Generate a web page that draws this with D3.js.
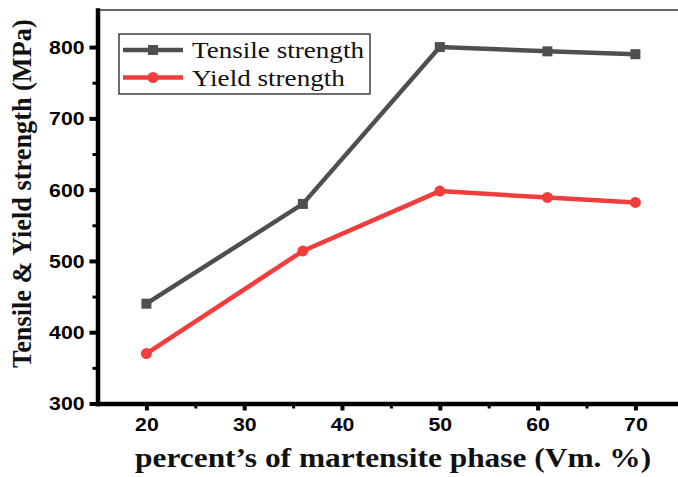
<!DOCTYPE html>
<html>
<head>
<meta charset="utf-8">
<script src="https://cdn.jsdelivr.net/npm/d3@7"></script>
<style>
  body { margin: 0; background: #fff; }
  svg { display: block; }
</style>
</head>
<body>
<svg id="chart" width="678" height="477"></svg>
<script>
// data
const xValues = [20, 36, 50, 61, 70];
const tensile = [440, 580, 800, 794, 790];
const yieldStrength = [370, 514, 598, 589, 582];
const xTicks = [20, 30, 40, 50, 60, 70];
const xMinor = [25, 35, 45, 55, 65];
const yTicks = [300, 400, 500, 600, 700, 800];
const yMinor = [350, 450, 550, 650, 750];
const seriesNames = ["Tensile strength", "Yield strength"];
const seriesColors = ["#4f4f4f", "#f23d3d"];

const svg = d3.select("#chart");

const x = d3.scaleLinear().domain([15, 75]).range([97.5, 684.3]);
const y = d3.scaleLinear().domain([300, 852]).range([403.5, 10]);

// frame top line
svg.append("line")
    .attr("x1", x(15)).attr("x2", x(75))
    .attr("y1", y(852)).attr("y2", y(852))
    .attr("stroke", "#333").attr("stroke-width", 1.5);

// minor ticks
svg.append("g")
    .attr("transform", `translate(0,${y(300)})`)
    .call(d3.axisBottom(x).tickValues(xMinor).tickSize(5).tickFormat(""))
    .call(g => g.select(".domain").remove())
    .selectAll("line").attr("stroke-width", 3);
svg.append("g")
    .attr("transform", `translate(${x(15)},0)`)
    .call(d3.axisLeft(y).tickValues(yMinor).tickSize(5).tickFormat(""))
    .call(g => g.select(".domain").remove())
    .selectAll("line").attr("stroke-width", 3);

// x axis
const xAxis = svg.append("g")
    .attr("transform", `translate(0,${y(300)})`)
    .call(d3.axisBottom(x).tickValues(xTicks).tickSize(7).tickSizeOuter(0));
xAxis.select(".domain").attr("stroke-width", 4.5).attr("stroke-linecap", "square");
xAxis.selectAll(".tick line").attr("stroke-width", 4);
xAxis.selectAll(".tick text")
    .attr("y", 27.5).attr("dy", null)
    .attr("transform", "scale(1.18,1)")
    .style("font-family", "'Liberation Sans', Arial, sans-serif")
    .style("font-weight", "bold").style("font-size", "18px").attr("fill", "#000");

// y axis
const yAxis = svg.append("g")
    .attr("transform", `translate(${x(15)},0)`)
    .call(d3.axisLeft(y).tickValues(yTicks).tickSize(8).tickSizeOuter(0));
yAxis.select(".domain").attr("stroke-width", 4.5).attr("stroke-linecap", "square");
yAxis.selectAll(".tick line").attr("stroke-width", 4);
yAxis.selectAll(".tick text")
    .attr("x", 0).attr("dy", "0.36em")
    .attr("transform", "translate(-13,0) scale(1.18,1)")
    .style("font-family", "'Liberation Sans', Arial, sans-serif")
    .style("font-weight", "bold").style("font-size", "18px").attr("fill", "#000");

// series
const series = [tensile, yieldStrength];
const line = d3.line().x((d, i) => x(xValues[i])).y(d => y(d));

series.forEach((vals, s) => {
    svg.append("path")
        .datum(vals)
        .attr("d", line)
        .attr("fill", "none")
        .attr("stroke", seriesColors[s])
        .attr("stroke-width", 4.5);
    const marks = svg.append("g").selectAll("g")
        .data(vals).enter()
        .append("g")
        .attr("transform", (d, i) => `translate(${x(xValues[i])},${y(d)})`);
    if (s === 0) {
        marks.append("rect").attr("x", -5).attr("y", -5).attr("width", 10).attr("height", 10)
            .attr("fill", seriesColors[s]);
    } else {
        marks.append("circle").attr("r", 5.5).attr("fill", seriesColors[s]);
    }
});

// legend
const legend = svg.append("g");
legend.append("rect")
    .attr("x", 119).attr("y", 34).attr("width", 251).attr("height", 60)
    .attr("fill", "#fff").attr("stroke", "#222").attr("stroke-width", 1.3);
const rows = [50, 77.5];
seriesNames.forEach((name, s) => {
    const g = legend.append("g").attr("transform", `translate(0,${rows[s]})`);
    g.append("line").attr("x1", 123).attr("x2", 183)
        .attr("stroke", seriesColors[s]).attr("stroke-width", 4.5);
    if (s === 0) {
        g.append("rect").attr("x", 148).attr("y", -5).attr("width", 10).attr("height", 10)
            .attr("fill", seriesColors[s]);
    } else {
        g.append("circle").attr("cx", 153).attr("r", 5.5).attr("fill", seriesColors[s]);
    }
    g.append("text")
        .attr("transform", "translate(192,8) scale(1.13,1)")
        .style("font-family", "'Liberation Serif', 'Times New Roman', serif")
        .style("font-size", "24px")
        .attr("fill", "#111")
        .text(name);
});

// axis titles
svg.append("text")
    .attr("transform", "translate(135,467) scale(1.185,1)")
    .style("font-family", "'Liberation Serif', 'Times New Roman', serif")
    .style("font-weight", "bold").style("font-size", "26.5px")
    .attr("fill", "#111")
    .text("percent\u2019s of martensite phase (Vm. %)");

svg.append("text")
    .attr("transform", "translate(31,368) rotate(-90)")
    .style("font-family", "'Liberation Serif', 'Times New Roman', serif")
    .style("font-weight", "bold").style("font-size", "26.3px")
    .attr("fill", "#111")
    .text("Tensile & Yield strength (MPa)");
</script>
</body>
</html>
